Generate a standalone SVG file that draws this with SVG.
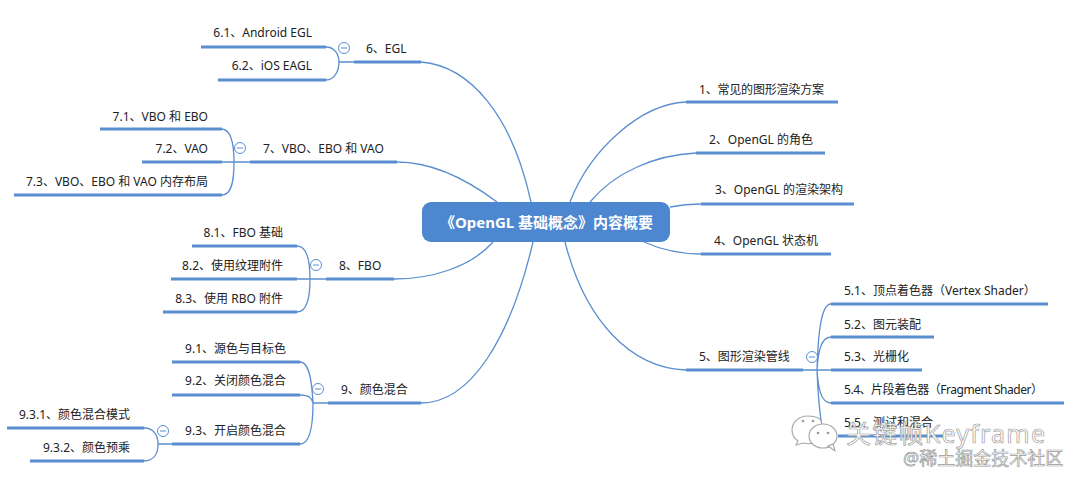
<svg xmlns="http://www.w3.org/2000/svg" width="1080" height="484" viewBox="0 0 1080 484">
<style>
text{font-family:"Noto Sans","Noto Sans CJK SC",sans-serif;font-size:12px;fill:#222}
.l{text-anchor:start}.r{text-anchor:end}
.b{stroke:#5a8ed0;stroke-width:3;fill:none}
.c{stroke:#5a8ed0;stroke-width:1.3;fill:none}
.o circle{fill:#fff;stroke:#5a8ed0;stroke-width:1}
.o path{stroke:#5a8ed0;stroke-width:1;fill:none}
.wi{fill:#fff;stroke:#a5a5a5;stroke-width:1.1}
.wd{fill:#9a9a9a;stroke:none}
</style>
<rect width="1080" height="484" fill="#fff"/>
<g id="connectors">
<path class="c" d="M421 62C470 66 512 115 531 202"/>
<path class="c" d="M397 162C430 162 465 178 497 202"/>
<path class="c" d="M394 279C430 279 470 268 493 242"/>
<path class="c" d="M421 403C470 403 510 340 533 242"/>
<path class="c" d="M686 102C640 104 590 150 570 202"/>
<path class="c" d="M696 153C655 155 615 172 590 202"/>
<path class="c" d="M701 204C688 204 680 205 670 207"/>
<path class="c" d="M701 254C680 254 662 250 644 242"/>
<path class="c" d="M686 370C630 368 585 320 565 242"/>
<path class="c" d="M354 62H339M339 62C339 55 335 47 326 47M339 62C339 70 335 80 326 80"/>
<path class="c" d="M250 162H215M234 162C234 146 232 130 222 129M234 162C234 180 232 195 222 195"/>
<path class="c" d="M326 279H297M310 279C310 262 308 246 297 246M310 279C310 296 308 312 297 312"/>
<path class="c" d="M328 403H313M313 403C312 385 310 362 300 362M313 403C312 399 310 395 300 395M313 403C313 425 310 444 300 444"/>
<path class="c" d="M172 444H158M158 444C158 437 155 428 144 428M158 444C158 452 155 461 144 461"/>
<path class="c" d="M831 370H803M817 370C818 340 820 304 831 304M817 370C818 355 820 337 831 337M817 370C818 385 820 403 831 403M817 370C818 395 820 420 824 436"/>
</g>
<g id="root"><rect x="422" y="202" width="248" height="40" rx="9" fill="#4d87d0"/><text x="546.500" y="227.500" text-anchor="middle" style="font-size:15px;font-weight:700;fill:#fff">《OpenGL 基础概念》内容概要</text></g>
<g id="n1"><path class="b" d="M686 102H838"/><text class="l" x="699" y="94" textLength="125">1、常见的图形渲染方案</text></g>
<g id="n2"><path class="b" d="M696 153H825"/><text class="l" x="709" y="144">2、OpenGL 的角色</text></g>
<g id="n3"><path class="b" d="M701 204H854"/><text class="l" x="715" y="194">3、OpenGL 的渲染架构</text></g>
<g id="n4"><path class="b" d="M701 254H831"/><text class="l" x="714" y="245">4、OpenGL 状态机</text></g>
<g id="n5"><path class="b" d="M686 370H803"/><text class="l" x="699" y="361">5、图形渲染管线</text></g>
<g id="n51"><path class="b" d="M831 304H1048"/><text class="l" x="844" y="295">5.1、顶点着色器（Vertex Shader）</text></g>
<g id="n52"><path class="b" d="M831 337H934"/><text class="l" x="844" y="329">5.2、图元装配</text></g>
<g id="n53"><path class="b" d="M831 370H922"/><text class="l" x="844" y="361">5.3、光栅化</text></g>
<g id="n54"><path class="b" d="M831 403H1064"/><text class="l" x="844" y="394" textLength="199">5.4、片段着色器（Fragment Shader）</text></g>
<g id="n55"><path class="b" d="M838 436H943"/><text class="l" x="844" y="427">5.5、测试和混合</text></g>
<g id="n6"><path class="b" d="M354 62H421"/><text class="l" x="366" y="53">6、EGL</text></g>
<g id="n61"><path class="b" d="M201 47H326"/><text class="r" x="312" y="37">6.1、Android EGL</text></g>
<g id="n62"><path class="b" d="M218 80H326"/><text class="r" x="312" y="70">6.2、iOS EAGL</text></g>
<g id="n7"><path class="b" d="M250 162H397"/><text class="l" x="263" y="153">7、VBO、EBO 和 VAO</text></g>
<g id="n71"><path class="b" d="M100 129H222"/><text class="r" x="208" y="121">7.1、VBO 和 EBO</text></g>
<g id="n72"><path class="b" d="M142 162H222"/><text class="r" x="208" y="153">7.2、VAO</text></g>
<g id="n73"><path class="b" d="M14 195H222"/><text class="r" x="208" y="186">7.3、VBO、EBO 和 VAO 内存布局</text></g>
<g id="n8"><path class="b" d="M326 279H394"/><text class="l" x="339" y="270">8、FBO</text></g>
<g id="n81"><path class="b" d="M192 246H297"/><text class="r" x="283" y="237">8.1、FBO 基础</text></g>
<g id="n82"><path class="b" d="M171 279H297"/><text class="r" x="283" y="270">8.2、使用纹理附件</text></g>
<g id="n83"><path class="b" d="M163 312H297"/><text class="r" x="283" y="303">8.3、使用 RBO 附件</text></g>
<g id="n9"><path class="b" d="M328 403H421"/><text class="l" x="341" y="394">9、颜色混合</text></g>
<g id="n91"><path class="b" d="M172 362H300"/><text class="r" x="286" y="353">9.1、源色与目标色</text></g>
<g id="n92"><path class="b" d="M172 395H300"/><text class="r" x="286" y="385">9.2、关闭颜色混合</text></g>
<g id="n93"><path class="b" d="M172 444H300"/><text class="r" x="286" y="435">9.3、开启颜色混合</text></g>
<g id="n931"><path class="b" d="M7 428H144"/><text class="r" x="130" y="419">9.3.1、颜色混合模式</text></g>
<g id="n932"><path class="b" d="M30 461H144"/><text class="r" x="130" y="452">9.3.2、颜色预乘</text></g>
<g class="o" id="toggles">
<g><circle cx="344" cy="48" r="5.5"/><path d="M341 48H347"/></g>
<g><circle cx="240" cy="148" r="5.5"/><path d="M237 148H243"/></g>
<g><circle cx="316" cy="265" r="5.5"/><path d="M313 265H319"/></g>
<g><circle cx="318" cy="389" r="5.5"/><path d="M315 389H321"/></g>
<g><circle cx="163" cy="431" r="5.5"/><path d="M160 431H166"/></g>
<g><circle cx="812" cy="357" r="5.5"/><path d="M809 357H815"/></g>
</g>
<g id="watermark">
<path class="wi" d="M808 416C798 416 792 423 792 430C792 435 795 439 798 441L796 445L803 443C807 444 812 444 815 442C825 425 825 416 808 416Z"/>
<ellipse class="wi" cx="823" cy="436" rx="14" ry="12"/>
<path class="wi" d="M828 446L835 451L833 444Z"/>
<circle class="wd" cx="803" cy="421" r="1.3"/><circle class="wd" cx="813" cy="421" r="1.3"/>
<circle class="wd" cx="818" cy="433" r="1.3"/><circle class="wd" cx="828" cy="433" r="1.3"/>
<text x="846" y="443" textLength="199" style="font-size:25px;fill:#fff;stroke:#a0a0a0;stroke-width:.7">关键帧Keyframe</text>
<text x="903" y="465" style="font-size:18px;fill:#fff;stroke:#9a9a9a;stroke-width:.7">@稀土掘金技术社区</text>
</g>
</svg>
